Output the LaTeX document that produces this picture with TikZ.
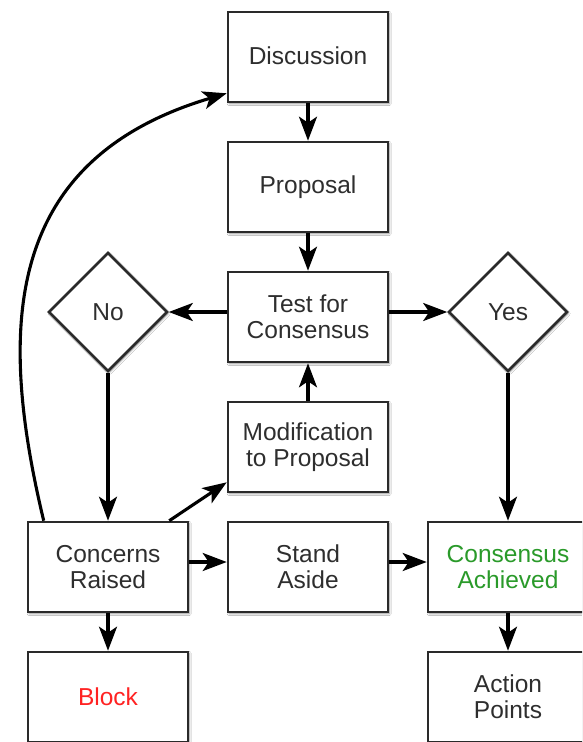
\documentclass[tikz,border=0pt]{standalone}
\usepackage{fontspec}
\setmainfont{Liberation Sans}
\usetikzlibrary{shapes.geometric,arrows.meta,shadows.blur}
\definecolor{txt}{HTML}{2E2E2E}
\definecolor{edge}{HTML}{2A2A2A}
\definecolor{blockred}{HTML}{FF2222}
\definecolor{okgreen}{HTML}{2A9A2A}
\tikzset{
  base/.style={draw=edge, line width=2.6pt, fill=white, text=txt,
    font=\fontsize{24.5}{26}\selectfont, align=center,
    blur shadow={shadow xshift=1.2pt, shadow yshift=-1.5pt, shadow blur steps=6, shadow blur radius=2pt, shadow opacity=45}},
  box/.style={base, rectangle, minimum width=160pt, minimum height=90pt, inner sep=0pt},
  choice/.style={base, diamond, minimum width=119pt, minimum height=119pt, inner sep=0pt},
  flow/.style={line width=3.1pt, black, -{Stealth[length=24pt, width=18pt, inset=6pt]}}
}
\begin{document}
\begin{tikzpicture}[x=1pt, y=-1pt]
\useasboundingbox (0,0) rectangle (582,742);
\clip (0,0) rectangle (582,742);
\fill[white] (0,0) rectangle (582,742);
\node[box] (disc) at (308,57) {\raisebox{3pt}{Discussion}};
\node[box] (prop) at (308,187) {Proposal};
\node[box] (test) at (308,317) {Test for\\Consensus};
\node[box] (modi) at (308,447) {Modification\\to Proposal};
\node[box] (stand) at (308,567) {Stand\\Aside};
\node[box] (conc) at (108,567) {Concerns\\Raised};
\node[box] (block) at (108,697) {\textcolor{blockred}{Block}};
\node[box] (cons) at (508,567) {\textcolor{okgreen}{Consensus}\\\textcolor{okgreen}{Achieved}};
\node[box] (act) at (508,697) {Action\\Points};
\node[choice] (no) at (108,312) {No};
\node[choice] (yes) at (508,312) {Yes};

\draw[flow] (disc) -- (prop);
\draw[flow] (prop) -- (test);
\draw[flow] (no.east -| test.west) -- (no.east);
\draw[flow] (yes.west -| test.east) -- (yes.west);
\draw[flow] (no.south) -- (conc.north);
\draw[flow] (yes.south) -- (cons.north);
\draw[flow] ([yshift=5pt]conc.east) -- ([yshift=5pt]stand.west);
\draw[flow] ([yshift=5pt]stand.east) -- ([yshift=5pt]cons.west);
\draw[flow] (conc) -- (block);
\draw[flow] (cons) -- (act);
\draw[flow] (modi) -- (test);
\draw[flow] ([xshift=-20pt]conc.north east) -- ([yshift=11pt]modi.south west);
\draw[flow] ([xshift=17pt]conc.north west) .. controls (-2,330) and (2,160) .. ([yshift=10pt]disc.south west);
\end{tikzpicture}
\end{document}
